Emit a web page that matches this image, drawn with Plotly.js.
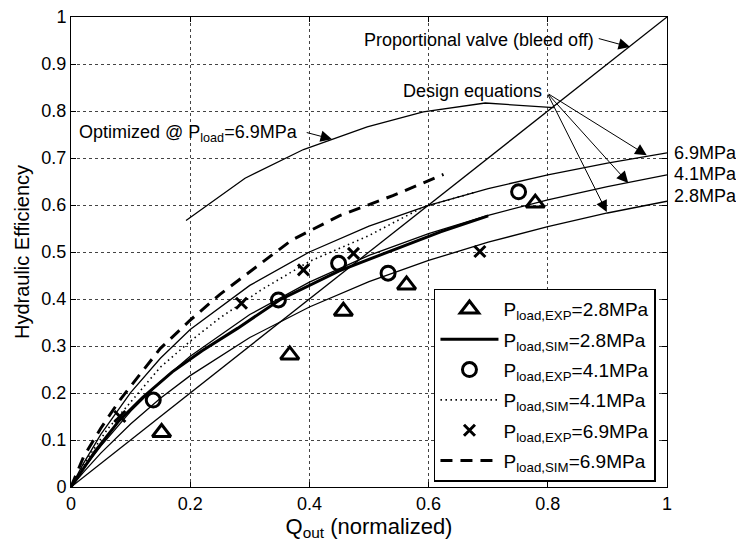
<!DOCTYPE html>
<html><head><meta charset="utf-8">
<script src="https://cdn.plot.ly/plotly-3.0.1.min.js"></script>
<style>html,body{margin:0;padding:0;background:#fff}#chart{width:736px;height:544px}</style>
</head><body><div id="chart"></div>
<script>
// Design equation curves
const qGrid = [0, 0.02, 0.05, 0.1, 0.15, 0.2, 0.3, 0.4, 0.5, 0.6, 0.7, 0.8, 0.9, 1.0];
const design69 = [0, 0.048, 0.112, 0.201, 0.274, 0.335, 0.429, 0.500, 0.555, 0.599, 0.635, 0.664, 0.689, 0.711];
const design41 = [0, 0.037, 0.087, 0.161, 0.224, 0.278, 0.367, 0.436, 0.493, 0.539, 0.578, 0.611, 0.639, 0.664];
const design28 = [0, 0.030, 0.072, 0.134, 0.189, 0.237, 0.318, 0.383, 0.437, 0.482, 0.521, 0.554, 0.583, 0.608];
// Proportional valve (bleed off)
const propX = [0, 1];
const propY = [0, 1];
// Optimized @ 6.9 MPa
const optX = [0.193, 0.292, 0.39, 0.497, 0.591, 0.695, 0.81];
const optY = [0.567, 0.657, 0.718, 0.766, 0.798, 0.817, 0.807];
// Experimental points
const exp28X = [0.152, 0.367, 0.457, 0.563, 0.779];
const exp28Y = [0.116, 0.281, 0.374, 0.430, 0.604];
const exp41X = [0.138, 0.348, 0.449, 0.532, 0.751];
const exp41Y = [0.185, 0.398, 0.476, 0.455, 0.628];
const exp69X = [0.082, 0.286, 0.39, 0.474, 0.686];
const exp69Y = [0.150, 0.391, 0.462, 0.497, 0.501];
// Simulation curves
const sim28X = [0, 0.04, 0.08, 0.12, 0.17, 0.22, 0.28, 0.35, 0.45, 0.55, 0.62, 0.70];
const sim28Y = [0, 0.075, 0.14, 0.19, 0.245, 0.29, 0.338, 0.398, 0.46, 0.508, 0.543, 0.577];
const sim41X = [0, 0.03, 0.06, 0.1, 0.15, 0.2, 0.25, 0.32, 0.4, 0.5, 0.59, 0.68];
const sim41Y = [0, 0.065, 0.121, 0.18, 0.255, 0.31, 0.36, 0.42, 0.48, 0.535, 0.595, 0.628];
const sim69X = [0, 0.021, 0.05, 0.082, 0.15, 0.2, 0.25, 0.3, 0.37, 0.45, 0.54, 0.625];
const sim69Y = [0, 0.064, 0.125, 0.185, 0.295, 0.355, 0.41, 0.458, 0.525, 0.577, 0.62, 0.665];
// Labels
const pressureLabels = ['6.9MPa', '4.1MPa', '2.8MPa'];
const legendNames = [
  'P<sub>load,EXP</sub>=2.8MPa', 'P<sub>load,SIM</sub>=2.8MPa',
  'P<sub>load,EXP</sub>=4.1MPa', 'P<sub>load,SIM</sub>=4.1MPa',
  'P<sub>load,EXP</sub>=6.9MPa', 'P<sub>load,SIM</sub>=6.9MPa'
];

const K = '#000';
const thin = {color: K, width: 1.3};
const traces = [
  {x: qGrid, y: design28, mode: 'lines', line: thin, showlegend: false, hoverinfo: 'skip'},
  {x: qGrid, y: design41, mode: 'lines', line: thin, showlegend: false, hoverinfo: 'skip'},
  {x: qGrid, y: design69, mode: 'lines', line: thin, showlegend: false, hoverinfo: 'skip'},
  {x: propX, y: propY, mode: 'lines', line: thin, showlegend: false, hoverinfo: 'skip'},
  {x: optX, y: optY, mode: 'lines', line: thin, showlegend: false, hoverinfo: 'skip'},
  {x: sim41X, y: sim41Y, mode: 'lines', name: legendNames[3], legendrank: 4, legendgroup: 'g4',
   line: {color: K, width: 1.6, dash: '1.5px,3.5px'}},
  {x: sim69X, y: sim69Y, mode: 'lines', name: legendNames[5], legendrank: 6, legendgroup: 'g6',
   line: {color: K, width: 3, dash: '12px,8px'}},
  {x: sim28X, y: sim28Y, mode: 'lines', name: legendNames[1], legendrank: 2, legendgroup: 'g2',
   line: {color: K, width: 3}},
  {x: exp28X, y: exp28Y, mode: 'markers', name: legendNames[0], legendrank: 1, legendgroup: 'g1',
   marker: {symbol: 'triangle-up-open', size: 16, color: K, line: {color: K, width: 3}}},
  {x: exp41X, y: exp41Y, mode: 'markers', name: legendNames[2], legendrank: 3, legendgroup: 'g3',
   marker: {symbol: 'circle-open', size: 14, color: K, line: {color: K, width: 3}}},
  {x: exp69X, y: exp69Y, mode: 'markers', name: legendNames[4], legendrank: 5, legendgroup: 'g5',
   marker: {symbol: 'x-thin-open', size: 11, color: K, line: {color: K, width: 3}}}
];

const font = {family: '"Liberation Sans", Arial, sans-serif', size: 18, color: K};
function arrow(x, y, ax, ay) {
  return {x: x, y: y, ax: ax, ay: ay, xref: 'x', yref: 'y', axref: 'x', ayref: 'y',
    text: '', showarrow: true, arrowhead: 2, arrowsize: 2.3, arrowwidth: 1, arrowcolor: K};
}
const annotations = [
  {x: 0.488, y: 0.951, xref: 'x', yref: 'y', text: 'Proportional valve (bleed off)', showarrow: false,
   xanchor: 'left', yanchor: 'middle', font: font},
  arrow(0.938, 0.936, 0.883, 0.955),
  {x: 0.673, y: 0.843, xref: 'x', yref: 'y', text: 'Design equations', showarrow: false,
   xanchor: 'center', yanchor: 'middle', font: font},
  arrow(0.966, 0.706, 0.799, 0.838),
  arrow(0.935, 0.647, 0.799, 0.838),
  arrow(0.899, 0.585, 0.799, 0.838),
  {x: 0.010, y: 0.752, xref: 'x', yref: 'y', text: 'Optimized @ P<sub>load</sub>=6.9MPa', showarrow: false,
   xanchor: 'left', yanchor: 'middle', font: font},
  arrow(0.438, 0.740, 0.393, 0.755),
  {x: 1.008, y: 0.711, xref: 'paper', yref: 'y', text: pressureLabels[0], showarrow: false,
   xanchor: 'left', yanchor: 'middle', font: font},
  {x: 1.008, y: 0.666, xref: 'paper', yref: 'y', text: pressureLabels[1], showarrow: false,
   xanchor: 'left', yanchor: 'middle', font: font},
  {x: 1.008, y: 0.619, xref: 'paper', yref: 'y', text: pressureLabels[2], showarrow: false,
   xanchor: 'left', yanchor: 'middle', font: font}
];

const axisBase = {
  range: [0, 1], showline: true, linecolor: K, linewidth: 1, mirror: 'ticks',
  ticks: 'inside', ticklen: 5, tickcolor: K, tickwidth: 1,
  showgrid: true, gridcolor: '#444', griddash: 'dot', gridwidth: 1,
  zeroline: false, tickfont: font, fixedrange: true
};
const layout = {
  width: 736, height: 544,
  margin: {l: 71, r: 69, t: 17, b: 57},
  paper_bgcolor: '#fff', plot_bgcolor: '#fff',
  font: font,
  showlegend: true,
  xaxis: Object.assign({}, axisBase, {dtick: 0.2, tick0: 0,
    title: {text: 'Q<sub>out</sub> (normalized)', font: {family: font.family, size: 22, color: K}, standoff: 3}}),
  yaxis: Object.assign({}, axisBase, {dtick: 0.1, tick0: 0,
    title: {text: 'Hydraulic Efficiency', font: {family: font.family, size: 20, color: K}, standoff: 6}}),
  legend: {x: 0.609, y: 0.422, xanchor: 'left', yanchor: 'top', bgcolor: '#fff',
    bordercolor: K, borderwidth: 1.5, font: {family: font.family, size: 19, color: K},
    itemwidth: 58, traceorder: 'grouped', tracegroupgap: 2.6},
  annotations: annotations
};
Plotly.newPlot('chart', traces, layout, {displayModeBar: false, staticPlot: true});
</script></body></html>
